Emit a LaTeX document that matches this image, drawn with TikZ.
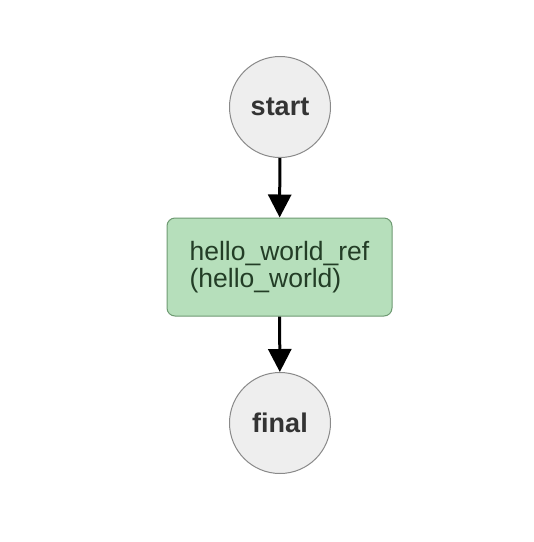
\documentclass[tikz,border=0pt]{standalone}
\usepackage{fontspec}
\setmainfont{Liberation Sans}
\usetikzlibrary{arrows.meta}
\definecolor{circfill}{HTML}{EEEEEE}
\definecolor{circdraw}{HTML}{8A8A8A}
\definecolor{boxfill}{HTML}{B6DFBB}
\definecolor{boxdraw}{HTML}{6E9A72}
\definecolor{boxtext}{HTML}{233D26}
\definecolor{circtext}{HTML}{333333}
\tikzset{
  statenode/.style={circle, draw=circdraw, fill=circfill, line width=1pt, minimum size=101pt, inner sep=0pt,
    text=circtext, font=\fontsize{27}{30}\selectfont\bfseries},
  taskbox/.style={rectangle, rounded corners=8pt, draw=boxdraw, fill=boxfill, line width=1pt,
    minimum width=225pt, minimum height=98pt, inner sep=0pt, align=left, text=boxtext,
    font=\fontsize{26.5}{27}\selectfont},
  flow/.style={line width=3pt, draw=black, -{Triangle[width=23pt,length=23pt]}}
}
\begin{document}
\begin{tikzpicture}[x=1pt,y=-1pt]
  \useasboundingbox (0,0) rectangle (534,542);
  \fill[white] (0,0) rectangle (534,542);
  \node[statenode] (start) at (280,107) {start};
  \node[taskbox] (task) at (279.5,267) {hello\_world\_ref\\(hello\_world)};
  \node[statenode] (final) at (280,423) {final};
  \draw[flow] (start) -- (task);
  \draw[flow] (task) -- (final);
\end{tikzpicture}
\end{document}
